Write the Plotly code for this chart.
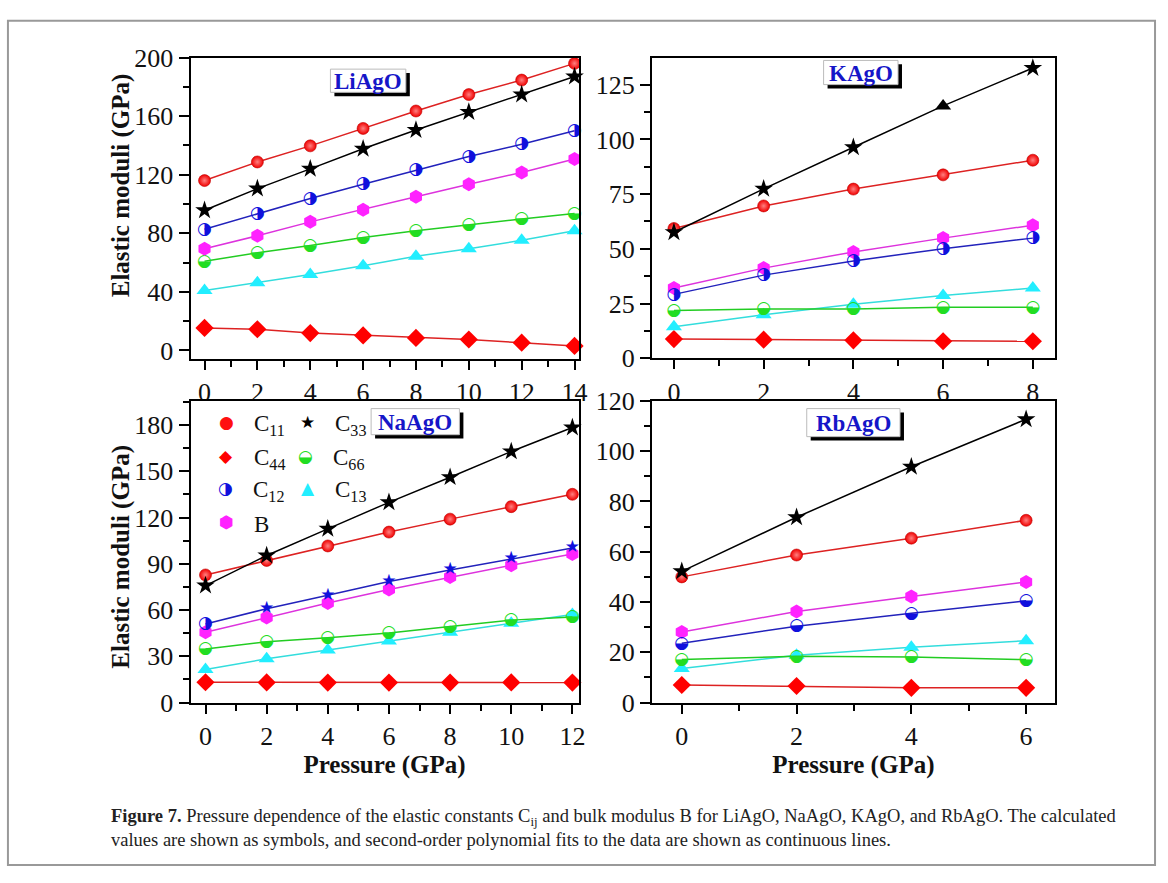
import plotly.graph_objects as go

# ---------------- data ----------------
p_li = [0, 2, 4, 6, 8, 10, 12, 14]
li_c11 = [116, 128.7, 139.7, 151.6, 163.5, 174.7, 184.6, 196]
li_c33 = [95.7, 110.5, 124, 137.7, 150.5, 162.8, 174.7, 187]
li_c12 = [82.7, 93.5, 103.8, 113.5, 123.2, 132.4, 140.8, 150]
li_b = [69.5, 78.3, 87.8, 96.1, 104.9, 113.5, 121.5, 130.7]
li_c66 = [60.9, 66.7, 71.7, 77.2, 81.8, 86, 89.8, 93.5]
li_c13 = [40.9, 46.2, 51.9, 57.9, 64.3, 69.5, 75.2, 81.8]
li_c44 = [15.4, 14.5, 11.9, 10.3, 8.6, 7.5, 5.3, 3.1]

p_k = [0, 2, 4, 6, 8]
k_c33 = [57.6, 77.4, 96.4, 115.3, 132.6]
k_c11 = [59.3, 69.6, 77.3, 83.8, 90.5]
k_b = [32.1, 41.2, 48.6, 54.9, 60.8]
k_c12 = [29.2, 38, 44.5, 50.1, 54.9]
k_c13 = [14.4, 19.9, 24.7, 28.7, 32.1]
k_c66 = [21.8, 22.5, 22.5, 23.3, 23.3]
k_c44 = [8.8, 8.5, 8.2, 7.8, 7.8]

p_na = [0, 2, 4, 6, 8, 10, 12]
na_c33 = [75.9, 95.4, 112.7, 129.9, 146.2, 162.9, 178.4]
na_c11 = [82.8, 92.2, 101.6, 110.6, 119, 127.1, 135.1]
na_c12 = [51, 60.9, 69.6, 78.6, 86, 93.3, 100.2]
na_b = [45.6, 55.2, 64.6, 73.4, 81.4, 89.1, 96.4]
na_c66 = [34.7, 39.5, 42, 45.2, 49.4, 53.5, 55.6]
na_c13 = [21.5, 28.4, 34.1, 40, 45.6, 51.4, 57.1]
na_c44 = [13.2, 13.1, 13.0, 13.0, 13.0, 13.1, 13.0]

p_rb = [0, 2, 4, 6]
rb_c33 = [52.2, 73.7, 93.8, 112.7]
rb_c11 = [50, 58.7, 65.4, 72.5]
rb_b = [28.1, 36.2, 42.2, 48]
rb_c12 = [23.6, 30.4, 35.5, 40.5]
rb_c66 = [17.1, 18.4, 18.1, 17.1]
rb_c13 = [13.6, 18.8, 22, 24.6]
rb_c44 = [7, 6.6, 5.9, 5.9]

compounds = ["LiAgO", "KAgO", "NaAgO", "RbAgO"]
x_ticks = [list(range(0, 15, 2)), list(range(0, 9, 2)), list(range(0, 13, 2)), list(range(0, 7, 2))]
y_ticks = [list(range(0, 201, 40)), list(range(0, 126, 25)), list(range(0, 181, 30)), list(range(0, 121, 20))]

# ---------------- styles ----------------
FONT = "Liberation Serif"
GLYPH_FONT = "DejaVu Sans"
W, H = 1168, 883

LINE_COL = {"C11": "#dd2222", "C33": "#000000", "C12": "#2222bb", "B": "#dd33dd",
            "C66": "#22cc22", "C13": "#33dddd", "C44": "#dd2222"}
MARKERS = {
    "C11": dict(symbol="circle", size=12, color="#f00000",
                gradient=dict(type="radial", color="#ff8080"), line=dict(color="#c00000", width=0.6)),
    "C33": dict(symbol="star", size=14, color="#000000", line=dict(width=0)),
    "B": dict(symbol="hexagon", size=14, color="#ff22ff", line=dict(width=0)),
    "C13": dict(symbol="triangle-up", size=14, color="#22eeff", line=dict(width=0)),
    "C44": dict(symbol="diamond", size=14, color="#ff0000", line=dict(width=0)),
}
GLYPH_COL = {"C12": "#1010dd", "C66": "#22dd22"}

panels = [
    (p_li, {"C11": li_c11, "C33": li_c33, "C12": li_c12, "B": li_b, "C66": li_c66, "C13": li_c13, "C44": li_c44}),
    (p_k, {"C11": k_c11, "C33": k_c33, "C12": k_c12, "B": k_b, "C66": k_c66, "C13": k_c13, "C44": k_c44}),
    (p_na, {"C11": na_c11, "C33": na_c33, "C12": na_c12, "B": na_b, "C66": na_c66, "C13": na_c13, "C44": na_c44}),
    (p_rb, {"C11": rb_c11, "C33": rb_c33, "C12": rb_c12, "B": rb_b, "C66": rb_c66, "C13": rb_c13, "C44": rb_c44}),
]
# glyph used for the half-filled symbols in each panel
c12_glyph = [["◑"] * 8, ["◑"] * 5, ["◑"] + ["★"] * 6, ["◒"] * 4]
c33_symbols = [None, ["star", "star", "star", "triangle-up", "star"], None, None]

fig = go.Figure()
order = ["C44", "C13", "C66", "B", "C12", "C11", "C33"]
for i, (px, series) in enumerate(panels):
    sfx = "" if i == 0 else str(i + 1)
    xa, ya = "x" + sfx, "y" + sfx
    for name in order:
        y = series[name]
        if name in ("C12", "C66"):
            fig.add_trace(go.Scatter(x=px, y=y, mode="lines", xaxis=xa, yaxis=ya, name=name,
                                     line=dict(color=LINE_COL[name], width=1.5), showlegend=False))
            glyphs = c12_glyph[i] if name == "C12" else ["◒"] * len(px)
            fig.add_trace(go.Scatter(x=px, y=y, mode="text", text=glyphs, xaxis=xa, yaxis=ya, name=name,
                                     textposition="middle center", cliponaxis=False,
                                     textfont=dict(family=GLYPH_FONT, size=17, color=GLYPH_COL[name]),
                                     showlegend=False))
        else:
            mk = dict(MARKERS[name])
            if name == "C33" and c33_symbols[i]:
                mk["symbol"] = c33_symbols[i]
            fig.add_trace(go.Scatter(x=px, y=y, mode="lines+markers", xaxis=xa, yaxis=ya, name=name,
                                     line=dict(color=LINE_COL[name], width=1.5), marker=mk,
                                     cliponaxis=False, showlegend=False))

# ---------------- axes ----------------
dom_x = [(192 / W, 583 / W), (657 / W, 1063 / W), (192 / W, 583 / W), (657 / W, 1063 / W)]
dom_y = [(1 - 357 / H, 1 - 45 / H), (1 - 356 / H, 1 - 45 / H), (1 - 712 / H, 1 - 400 / H), (1 - 712 / H, 1 - 400 / H)]
rng_x = [(-0.53, 14.15), (-0.49, 8.49), (-0.49, 12.2), (-0.52, 6.5)]
rng_y = [(-6, 200), (0, 137.4), (0, 195.7), (0, 120)]
y_minor = [20, 12.5, 15, 10]

layout = dict(width=W, height=H, margin=dict(l=0, r=0, t=0, b=0),
              paper_bgcolor="white", plot_bgcolor="white", showlegend=False)
for i in range(4):
    sfx = "" if i == 0 else str(i + 1)
    common = dict(showline=True, linewidth=2, linecolor="black", mirror=True, ticks="outside",
                  ticklen=10, tickwidth=2, tickcolor="black", showgrid=False, zeroline=False,
                  tickfont=dict(family=FONT, size=26, color="#111"))
    xa = dict(common, domain=list(dom_x[i]), range=list(rng_x[i]), tickmode="array", tickvals=x_ticks[i],
              anchor="y" + sfx, ticklen=9,
              minor=dict(ticks="outside", ticklen=6, tickwidth=2, tickcolor="black", dtick=1, tick0=1))
    if i >= 2:
        xa["title"] = dict(text="<b>Pressure (GPa)</b>", font=dict(family=FONT, size=25, color="#111"), standoff=4)
    ya = dict(common, domain=list(dom_y[i]), range=list(rng_y[i]), tickmode="array", tickvals=y_ticks[i],
              anchor="x" + sfx,
              minor=dict(ticks="outside", ticklen=6, tickwidth=2, tickcolor="black", dtick=y_minor[i], tick0=0))
    layout["xaxis" + sfx] = xa
    layout["yaxis" + sfx] = ya
fig.update_layout(**layout)

# ---------------- compound labels: boxed text with a drop shadow ----------------
ann = []
shapes = []
boxes = [(333, 409, 57, 81), (830, 905, 48, 73), (374, 463, 408, 435), (813, 907, 408, 437)]
SH = 4
for name, (bx0, bx1, by0, by1) in zip(compounds, boxes):
    shapes.append(dict(type="rect", xref="paper", yref="paper", layer="above",
                       x0=(bx0 + SH) / W, x1=(bx1 + SH) / W, y0=1 - (by1 + SH) / H, y1=1 - (by0 + SH) / H,
                       fillcolor="black", line=dict(width=0)))
    shapes.append(dict(type="rect", xref="paper", yref="paper", layer="above",
                       x0=bx0 / W, x1=bx1 / W, y0=1 - by1 / H, y1=1 - by0 / H,
                       fillcolor="white", line=dict(color="#bbbbbb", width=1)))
    ann.append(dict(x=(bx0 + bx1) / 2 / W, y=1 - ((by0 + by1) / 2 + 1) / H, xref="paper", yref="paper",
                    showarrow=False, xanchor="center", yanchor="middle", text="<b>%s</b>" % name,
                    font=dict(family=FONT, size=23, color="#1616c8")))

# y-axis titles
for yc in (177, 561):
    ann.append(dict(x=122 / W, y=1 - yc / H, xref="paper", yref="paper", showarrow=False, textangle=-90,
                    xanchor="center", yanchor="middle",
                    text="<b>Elastic moduli (GPa)</b>", font=dict(family=FONT, size=25, color="#111")))

# legend (inside the NaAgO panel)
legend_items = [
    ("●", "#ff1010", "C<sub>11</sub>", 228, 422), ("◆", "#ff0000", "C<sub>44</sub>", 228, 457),
    ("◑", "#1010dd", "C<sub>12</sub>", 227, 490), ("⬢", "#ff22ff", "B", 228, 525),
    ("★", "#000000", "C<sub>33</sub>", 310, 422), ("◒", "#22dd22", "C<sub>66</sub>", 308, 457),
    ("▲", "#22eeff", "C<sub>13</sub>", 310, 490),
]
for g, col, lab, gx, gy in legend_items:
    ann.append(dict(x=gx / W, y=1 - gy / H, xref="paper", yref="paper", showarrow=False, text=g,
                    xanchor="center", yanchor="middle",
                    font=dict(family=GLYPH_FONT, size=17, color=col)))
    ann.append(dict(x=(gx + 26) / W, y=1 - (gy + 3) / H, xref="paper", yref="paper", showarrow=False,
                    text=lab, xanchor="left", yanchor="middle", font=dict(family=FONT, size=23, color="#111")))

# caption
ann.append(dict(x=110 / W, y=1 - 817 / H, xref="paper", yref="paper", showarrow=False, xanchor="left",
                yanchor="top", align="left",
                text="<b>Figure 7.</b> Pressure dependence of the elastic constants C<sub>ij</sub> and bulk modulus B "
                     "for LiAgO, NaAgO, KAgO, and RbAgO. The calculated<br>values are shown as symbols, and "
                     "second-order polynomial fits to the data are shown as continuous lines.",
                font=dict(family=FONT, size=18.5, color="#222")))

# outer figure frame
shapes.append(dict(type="rect", xref="paper", yref="paper", x0=8 / W, x1=1164 / W,
                   y0=1 - 880 / H, y1=1 - 7 / H, line=dict(color="#999999", width=2)))
fig.update_layout(annotations=ann, shapes=shapes)

fig.write_html("out.html")
